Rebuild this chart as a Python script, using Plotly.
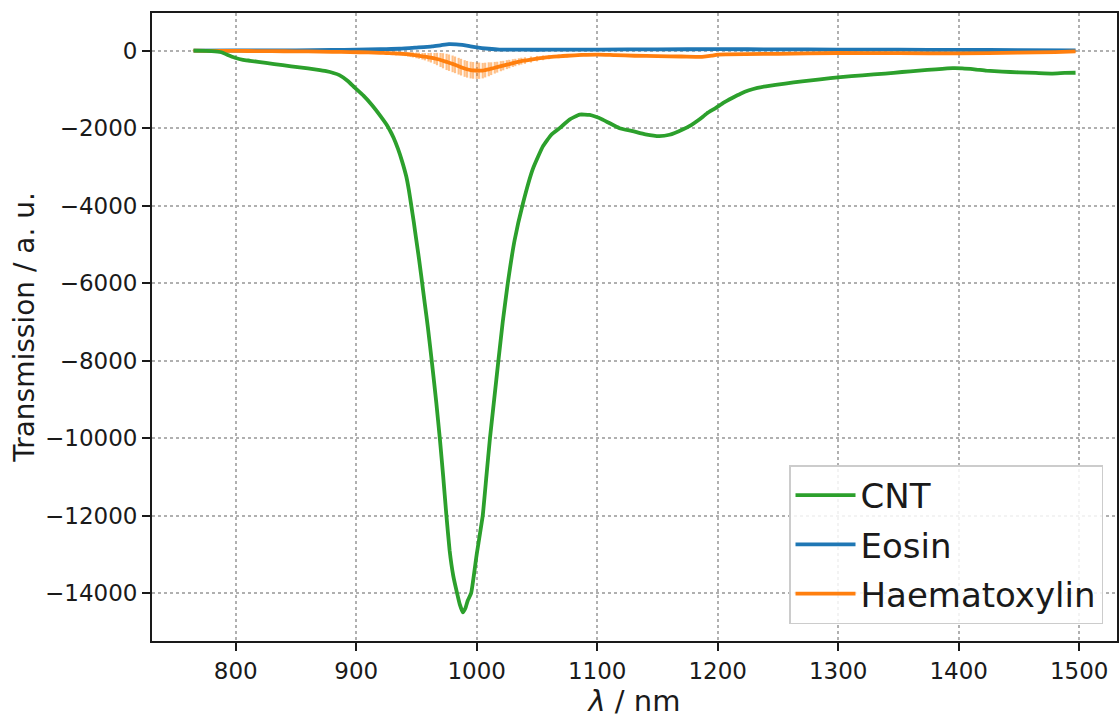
import plotly.graph_objects as go

# ---------------- data ----------------
cnt_wl = [765, 780, 788, 795, 800, 806, 812, 825, 839, 853, 867, 875, 881, 886, 893,
          899, 906, 913, 920, 925, 928, 931, 934.6, 938, 941.5, 943.7, 945.7, 947.8, 949.8,
          952, 954, 957, 959.5, 963, 966.5, 969.5, 972.2, 974.7, 977.5, 980.5, 983.3, 986,
          988.5, 990.5, 992.5, 995.4, 1000, 1005, 1008, 1011, 1014.5, 1018, 1021.6, 1025.8,
          1031.4, 1038.3, 1046.6, 1054.9, 1061.9, 1068.8, 1077, 1085.4, 1093.7, 1104.7,
          1118.5, 1129.4, 1140, 1151.6, 1160, 1170.9, 1178, 1184.7, 1191, 1198.5, 1205,
          1212, 1219, 1226, 1233, 1240, 1256, 1270, 1285, 1302, 1320, 1339, 1353,
          1367, 1381, 1395, 1403, 1413, 1423, 1436, 1450, 1464, 1478, 1488, 1497]
cnt_val = [0, -10, -40, -130, -190, -235, -260, -315, -375, -430, -490, -530, -575, -630, -780,
           -960, -1160, -1400, -1680, -1900, -2060, -2250, -2530, -2850, -3243, -3600, -4000, -4430, -4877,
           -5350, -5824, -6550, -7150, -8100, -9100, -10050, -11000, -11950, -12900, -13550, -13950, -14300,
           -14500, -14400, -14200, -14000, -13000, -12000, -11000, -10000, -9000, -8000, -7000, -6000,
           -4900, -3950, -3050, -2470, -2170, -2000, -1780, -1650, -1660, -1780,
           -2000, -2077, -2160, -2206, -2170, -2034, -1920, -1778, -1620, -1478, -1340,
           -1220, -1110, -1023, -960, -919, -850, -790, -740, -680, -635, -590, -550,
           -515, -480, -450, -455, -480, -515, -540, -560, -575, -590, -575, -570]

eosin_wl = [765, 800, 850, 880, 900, 920, 936, 950, 963, 970, 977, 983, 988, 994, 1000,
            1010, 1019, 1040, 1060, 1100, 1150, 1200, 1250, 1300, 1350, 1400, 1450, 1497]
eosin_val = [0, 5, 10, 20, 25, 40, 50, 80, 110, 140, 170, 165, 150, 120, 85,
             50, 30, 25, 25, 30, 35, 40, 35, 30, 25, 20, 15, 10]
eosin_err = [10, 10, 12, 12, 15, 18, 20, 25, 30, 35, 35, 35, 35, 30, 25,
             20, 18, 15, 15, 15, 15, 15, 15, 12, 12, 12, 12, 10]

haem_wl = [765, 780, 800, 820, 840, 860, 880, 895, 910, 920, 925, 930, 933, 936, 939, 941, 943,
           945, 947, 950, 952, 955, 957, 960, 962, 965, 967, 970, 972, 975, 977, 980, 982,
           985, 987, 990, 992, 995, 997, 1000, 1002, 1005, 1007, 1010, 1012, 1015, 1017,
           1020, 1022, 1025, 1027, 1030, 1032, 1035, 1037, 1040, 1045, 1050, 1055, 1060,
           1068, 1075, 1087, 1101, 1115, 1131, 1150, 1170, 1187, 1195, 1200, 1250, 1300,
           1350, 1400, 1450, 1480, 1497]
haem_val = [0, -3, -5, -10, -15, -20, -28, -35, -45, -55, -62, -68, -72, -77, -82, -88, -94,
            -100, -108, -120, -130, -145, -155, -170, -180, -200, -215, -240, -260, -290, -310, -340, -365,
            -400, -425, -460, -480, -500, -508, -515, -517, -515, -500, -480, -465, -440, -425,
            -400, -385, -360, -345, -320, -305, -285, -270, -255, -228, -205, -183, -165,
            -145, -130, -110, -100, -115, -130, -140, -150, -160, -130, -100, -80, -60,
            -65, -70, -50, -35, -20]
haem_err = [10, 10, 12, 12, 14, 15, 18, 20, 25, 30, 34, 38, 42, 45, 50, 52, 56,
            60, 66, 75, 80, 85, 95, 110, 125, 140, 160, 180, 195, 210, 212, 215, 215,
            215, 215, 215, 215, 215, 215, 215, 210, 200, 190, 180, 165, 150, 140,
            130, 122, 115, 108, 100, 95, 90, 88, 85, 78, 70, 62, 55,
            50, 45, 40, 35, 30, 30, 28, 28, 28, 25, 25, 22, 20,
            20, 20, 18, 15, 12]

x_ticks = [800, 900, 1000, 1100, 1200, 1300, 1400, 1500]
y_ticks = [0, -2000, -4000, -6000, -8000, -10000, -12000, -14000]
y_ticktext = ["0", "\u22122000", "\u22124000", "\u22126000", "\u22128000",
              "\u221210000", "\u221212000", "\u221214000"]

# ---------------- figure ----------------
BLUE = "#1f77b4"
ORANGE = "#ff7f0e"
GREEN = "#2ca02c"
FONT = "DejaVu Sans"

fig = go.Figure()

fig.add_trace(go.Scatter(
    x=eosin_wl, y=eosin_val, mode="lines", name="Eosin", legendgroup="e",
    line=dict(color=BLUE, width=3.8, shape="spline", smoothing=0.5), legendrank=2,
    error_y=dict(type="data", array=eosin_err, visible=True, width=0,
                 thickness=1.5, color="rgba(31,119,180,0.45)"),
))
fig.add_trace(go.Scatter(
    x=haem_wl, y=haem_val, mode="lines", name="Haematoxylin", legendgroup="h",
    line=dict(color=ORANGE, width=3.8, shape="spline", smoothing=0.5), legendrank=3,
    error_y=dict(type="data", array=haem_err, visible=True, width=0,
                 thickness=2.2, color="rgba(255,127,14,0.5)"),
))
fig.add_trace(go.Scatter(
    x=cnt_wl, y=cnt_val, mode="lines", name="CNT", legendgroup="c",
    line=dict(color=GREEN, width=3.8, shape="spline", smoothing=0.4), legendrank=1,
))

axis_common = dict(
    showline=True, linecolor="#1a1a1a", linewidth=1.8, mirror=True,
    showgrid=True, gridcolor="#b0b0b0", gridwidth=1.6, griddash="dot",
    ticks="outside", ticklen=8, tickwidth=1.6, tickcolor="#1a1a1a",
    tickfont=dict(family=FONT, size=23, color="#1a1a1a"),
    zeroline=False,
)

fig.update_xaxes(
    range=[730.5, 1531.4], tickvals=x_ticks,
    title=dict(text="<i>λ</i> / nm", font=dict(family=FONT, size=29, color="#1a1a1a"), standoff=8),
    **axis_common,
)
fig.update_yaxes(
    range=[-15239, 973], tickvals=y_ticks, ticktext=y_ticktext,
    title=dict(text="Transmission / a. u.", font=dict(family=FONT, size=28, color="#1a1a1a"), standoff=2),
    **axis_common,
)

fig.update_layout(
    width=1119, height=721,
    margin=dict(l=152, r=2, t=13, b=80, autoexpand=False),
    plot_bgcolor="white", paper_bgcolor="white",
    font=dict(family=FONT, color="#1a1a1a"),
    legend=dict(
        x=0.9855, y=0.027, xanchor="right", yanchor="bottom",
        bgcolor="rgba(255,255,255,0.85)", bordercolor="#cccccc", borderwidth=1.5,
        font=dict(family=FONT, size=34, color="#1a1a1a"),
        itemwidth=60, tracegroupgap=2,
    ),
    showlegend=True,
)

fig.write_html("out.html", config={"displayModeBar": False},
               post_script="document.body.style.margin='0';document.body.style.overflow='hidden';")
